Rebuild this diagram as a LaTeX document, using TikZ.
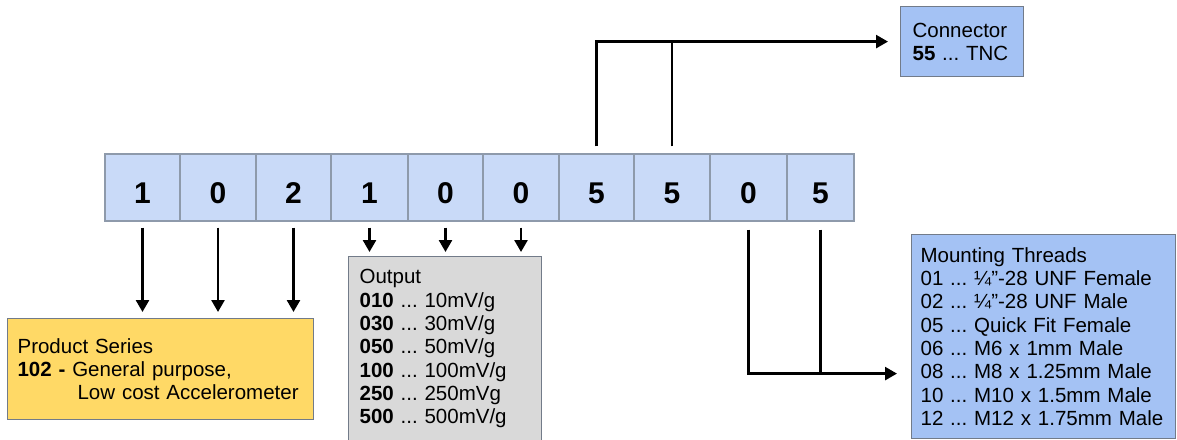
\documentclass[tikz,border=0pt]{standalone}
\usepackage{fontspec}
\setmainfont{Liberation Sans}
\usetikzlibrary{arrows.meta}
\frenchspacing

\definecolor{cellblue}{HTML}{C9DAF8}
\definecolor{boxblue}{HTML}{A4C2F4}
\definecolor{boxyellow}{HTML}{FFD966}
\definecolor{boxgrey}{HTML}{D9D9D9}
\definecolor{edgegrey}{HTML}{8E9AAB}

\tikzset{
  digit/.style={draw=edgegrey, line width=1.2pt, fill=cellblue, minimum height=67pt,
    inner sep=0pt, text height=34pt, text depth=3pt,
    font=\fontsize{30}{30}\selectfont\bfseries},
  infobox/.style={draw=edgegrey!80!black, line width=1.2pt, anchor=north west, align=left,
    inner ysep=0pt, font=\fontsize{20.5}{23.3}\selectfont},
  link/.style={line width=2.6pt, -{Triangle[length=12pt,width=13pt]}},
  stem/.style={line width=2.6pt}
}

\begin{document}
\begin{tikzpicture}[x=1pt,y=-1pt]
  \useasboundingbox (0,0) rectangle (1177,439);

  % code digits
  \foreach \d/\l/\r [count=\i] in {1/105/180,0/180/256,2/256/331,1/331/408,0/408/483,
      0/483/559,5/559/634,5/634/710,0/710/787,5/787/854}
    \node[digit, minimum width=\r-\l] (c\i) at ({(\l+\r)/2},187.5) {\d};

  % explanation boxes
  \node[infobox, fill=boxblue, inner xsep=12pt, text width=99pt, minimum height=70pt]
    (conn) at (900,6) {Connector\\\textbf{55} ... TNC};
  \node[infobox, fill=boxyellow, inner xsep=10pt, text width=286pt, minimum height=101pt]
    (series) at (7,318) {Product Series\\\textbf{102 -} General purpose,\\
    \hspace*{60pt}Low cost Accelerometer};
  % runs past the lower edge
  \node[infobox, fill=boxgrey, inner xsep=11pt, inner ysep=13pt, text width=171pt]
    (output) at (348,256) {Output\\
    \textbf{010} ... 10mV/g\\
    \textbf{030} ... 30mV/g\\
    \textbf{050} ... 50mV/g\\
    \textbf{100} ... 100mV/g\\
    \textbf{250} ... 250mVg\\
    \textbf{500} ... 500mV/g\\\mbox{}};
  \node[infobox, fill=boxblue, inner xsep=9pt, text width=246pt, minimum height=204pt]
    (mount) at (911,234) {Mounting Threads\\
    01 ... ¼"-28 UNF Female\\
    02 ... ¼"-28 UNF Male\\
    05 ... Quick Fit Female\\
    06 ... M6 x 1mm Male\\
    08 ... M8 x 1.25mm Male\\
    10 ... M10 x 1.5mm Male\\
    12 ... M12 x 1.75mm Male};

  % arrows
  \foreach \c in {c1,c2,c3}
    \draw[link] ([yshift=-6pt]\c.south) -- ([yshift=6pt]\c.south |- series.north);
  \foreach \c in {c4,c5,c6}
    \draw[link] ([yshift=-6pt]\c.south) -- ([yshift=4pt]\c.south |- output.north);

  \draw[link] ([yshift=7pt]c7.north) |- ([xshift=-12pt]conn.west);
  \draw[stem] ([yshift=7pt]c8.north) -- (c8.north |- conn.west);

  \coordinate (mt) at ([xshift=-14pt,yshift=-37pt]mount.west);
  \draw[link] ([yshift=-8pt]c9.south) |- (mt);
  \draw[stem] ([yshift=-8pt]c10.south) -- (c10.south |- mt);
\end{tikzpicture}
\end{document}
